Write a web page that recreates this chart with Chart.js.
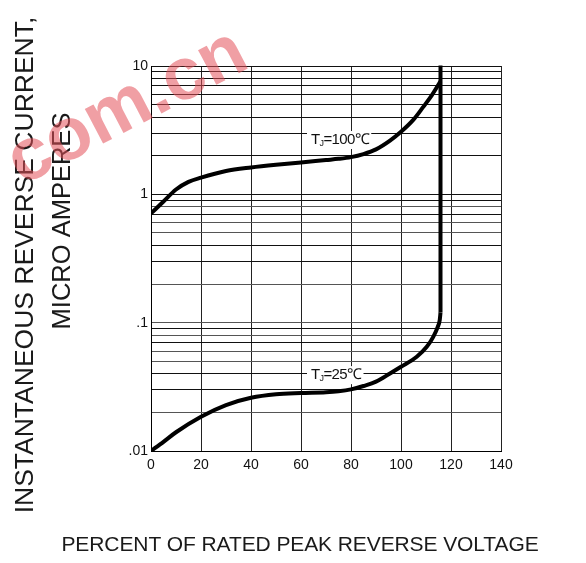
<!DOCTYPE html>
<html>
<head>
<meta charset="utf-8">
<script src="https://cdn.jsdelivr.net/npm/chart.js@4"></script>
<style>
  html, body { margin: 0; padding: 0; background: #fff; }
  canvas { display: block; }
</style>
</head>
<body>
<canvas id="chart" width="586" height="563"></canvas>
<script>
// Percent of rated peak reverse voltage (x) vs reverse current in uA (y)
const xHot = [0, 5, 10, 15, 20, 30, 40, 50, 60, 70, 75, 80, 85, 90, 95.6, 100, 104.9, 108.9, 112.3, 115.8];
const yHot = [0.71, 0.88, 1.09, 1.25, 1.35, 1.52, 1.62, 1.70, 1.77, 1.85, 1.89, 1.95, 2.06, 2.24, 2.62, 3.07, 3.8, 4.8, 5.9, 7.6];

const xCold = [0, 5, 10, 20, 30, 40, 50, 60, 70, 75, 80, 85, 90, 95.6, 100, 106.3, 110.3, 112.9, 114.7, 115.5, 115.8];
const yCold = [0.01, 0.0118, 0.014, 0.0185, 0.0228, 0.026, 0.0277, 0.0283, 0.0287, 0.0292, 0.0302, 0.0321, 0.0347, 0.0402, 0.0453, 0.0542, 0.0648, 0.0775, 0.0927, 0.105, 0.12];

// breakdown knee: vertical rise
const xKnee = [115.8, 115.8];
const yKnee = [0.12, 10.1];

const decades = [0.01, 0.1, 1];
const yTickLabels = ['.01', '.1', '1', '10'];
const xTicks = [0, 20, 40, 60, 80, 100, 120, 140];

const labelHot = { text: ['T', 'J', '=100\u2103'], x: 64, y: 2.65 };
const labelCold = { text: ['T', 'J', '=25\u2103'], x: 64, y: 0.039 };

const yTitle1 = 'INSTANTANEOUS REVERSE CURRENT,';
const yTitle2 = 'MICRO AMPERES';
const xTitle = 'PERCENT OF RATED PEAK REVERSE VOLTAGE';

const FONT = '"Liberation Sans", Arial, sans-serif';

const toPoints = (xs, ys) => xs.map((x, i) => ({ x: x, y: ys[i] }));

const curveStyle = {
    borderColor: '#000',
    borderWidth: 4,
    pointRadius: 0,
    fill: false,
    cubicInterpolationMode: 'monotone'
};

// curve labels with white box, drawn under the curves
const curveLabels = {
    id: 'curveLabels',
    beforeDatasetsDraw(chart) {
        const ctx = chart.ctx;
        const xs = chart.scales.x, ys = chart.scales.y;
        [labelHot, labelCold].forEach(lb => {
            const px = xs.getPixelForValue(lb.x);
            const py = ys.getPixelForValue(lb.y);
            ctx.save();
            ctx.letterSpacing = '-0.6px';
            ctx.font = '15px ' + FONT;
            const wT = ctx.measureText(lb.text[0]).width;
            ctx.font = '9px ' + FONT;
            const wJ = ctx.measureText(lb.text[1]).width;
            ctx.font = '15px ' + FONT;
            const wR = ctx.measureText(lb.text[2]).width;
            const w = wT + wJ + wR;
            ctx.fillStyle = '#fff';
            ctx.fillRect(px - 4, py - 9, w + 6, 18);
            ctx.fillStyle = '#111';
            ctx.textBaseline = 'middle';
            ctx.fillText(lb.text[0], px, py);
            ctx.font = '9px ' + FONT;
            ctx.fillText(lb.text[1], px + wT, py + 3);
            ctx.font = '15px ' + FONT;
            ctx.fillText(lb.text[2], px + wT + wJ, py);
            ctx.restore();
        });
    }
};

// axis titles and the watermark on top
const titlesAndMark = {
    id: 'titlesAndMark',
    afterDraw(chart) {
        const ctx = chart.ctx;
        ctx.save();
        ctx.fillStyle = '#1a1a1a';
        ctx.textAlign = 'center';
        ctx.textBaseline = 'middle';

        ctx.font = '26.5px ' + FONT;
        ctx.save();
        ctx.translate(26, 265);
        ctx.rotate(-Math.PI / 2);
        ctx.fillText(yTitle1, 0, 0);
        ctx.restore();

        ctx.font = '25.5px ' + FONT;
        ctx.save();
        ctx.translate(63, 221);
        ctx.rotate(-Math.PI / 2);
        ctx.fillText(yTitle2, 0, 0);
        ctx.restore();

        ctx.font = '21px ' + FONT;
        ctx.letterSpacing = '-0.1px';
        ctx.fillText(xTitle, 300, 545);
        ctx.letterSpacing = '0px';

        // red site watermark
        ctx.save();
        ctx.translate(22, 186);
        ctx.rotate(-27.5 * Math.PI / 180);
        ctx.font = 'bold 74px ' + FONT;
        ctx.textAlign = 'left';
        ctx.textBaseline = 'alphabetic';
        ctx.fillStyle = 'rgba(228, 80, 90, 0.55)';
        ctx.fillText('com.cn', 0, 0);
        ctx.restore();

        ctx.restore();
    }
};

new Chart(document.getElementById('chart'), {
    type: 'line',
    data: {
        datasets: [
            Object.assign({ label: 'TJ=100', data: toPoints(xHot, yHot) }, curveStyle),
            Object.assign({ label: 'TJ=25', data: toPoints(xCold, yCold) }, curveStyle),
            Object.assign({ label: 'knee', data: toPoints(xKnee, yKnee), clip: false }, curveStyle, { cubicInterpolationMode: 'default', tension: 0 })
        ]
    },
    options: {
        responsive: false,
        animation: false,
        devicePixelRatio: 1,
        layout: { padding: { left: 0, right: 85, top: 66, bottom: 0 } },
        plugins: { legend: { display: false }, tooltip: { enabled: false }, title: { display: false } },
        scales: {
            x: {
                type: 'linear',
                min: 0,
                max: 140,
                afterFit: s => { s.height = 112; },
                afterBuildTicks: s => { s.ticks = xTicks.map(v => ({ value: v })); },
                grid: { color: '#222', lineWidth: 1, drawTicks: false },
                border: { color: '#000', width: 1 },
                ticks: {
                    padding: 6,
                    color: '#111',
                    font: { family: FONT, size: 14 },
                    maxRotation: 0,
                    callback: v => String(v)
                }
            },
            y: {
                type: 'logarithmic',
                min: 0.01,
                max: 10,
                afterFit: s => { s.width = 151; },
                afterBuildTicks: s => {
                    const t = [];
                    decades.forEach(d => {
                        for (let m = 1; m <= 9; m++) t.push({ value: +(m * d).toPrecision(3) });
                    });
                    t.push({ value: 10 });
                    s.ticks = t;
                },
                grid: {
                    color: c => [0.02, 0.05, 0.06, 0.08, 0.1, 0.2, 0.5, 0.6, 0.8].includes(c.tick && c.tick.value) ? '#555' : '#111',
                    lineWidth: 1,
                    drawTicks: false
                },
                border: { color: '#000', width: 1 },
                ticks: {
                    padding: 3,
                    color: '#111',
                    font: { family: FONT, size: 14 },
                    autoSkip: false,
                    callback: v => {
                        const i = [0.01, 0.1, 1, 10].indexOf(+(+v).toPrecision(3));
                        return i >= 0 ? yTickLabels[i] : '';
                    }
                }
            }
        }
    },
    plugins: [curveLabels, titlesAndMark]
});
</script>
</body>
</html>
